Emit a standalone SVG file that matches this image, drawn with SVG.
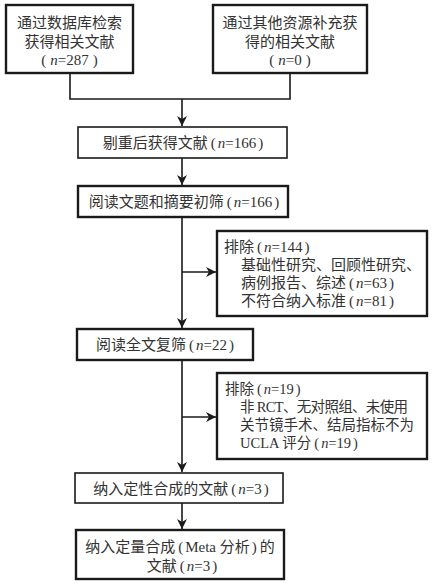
<svg xmlns="http://www.w3.org/2000/svg" width="432" height="587" viewBox="0 0 432 587">
<defs>
<style>
.box{fill:#fff;stroke:#1a1a1a;stroke-width:1.6}
.thick{stroke-width:2.4}
.t{font-family:'Liberation Serif','Noto Sans CJK SC',serif;font-size:15px;fill:#333}
.s{font-size:14.5px}
.c{text-anchor:middle}
.n{font-style:italic}
.ln{fill:none;stroke:#1a1a1a;stroke-width:1.6}
</style>
<marker id="ah" viewBox="0 0 10 10" refX="10" refY="5" markerWidth="10" markerHeight="10" markerUnits="userSpaceOnUse" orient="auto">
<path d="M0,0 L10,5 L0,10 L3,5 Z" fill="#1a1a1a"/>
</marker>
</defs>
<rect width="432" height="587" fill="#fff"/>
<g id="connectors">
<polyline class="ln" points="70,73 70,99 290,99 290,73"/>
<line class="ln" x1="182" y1="99" x2="182" y2="126" marker-end="url(#ah)" stroke-width="2"/>
<line class="ln" x1="182" y1="158" x2="182" y2="185" marker-end="url(#ah)" stroke-width="2"/>
<line class="ln" x1="182" y1="217" x2="182" y2="328" marker-end="url(#ah)"/>
<line class="ln" x1="182" y1="272" x2="216" y2="272" marker-end="url(#ah)"/>
<line class="ln" x1="182" y1="360" x2="182" y2="472" marker-end="url(#ah)"/>
<line class="ln" x1="182" y1="417" x2="216" y2="417" marker-end="url(#ah)"/>
<line class="ln" x1="182" y1="503" x2="182" y2="529" marker-end="url(#ah)" stroke-width="2"/>
</g>
<g id="n1">
<rect class="box thick" x="6" y="5" width="127" height="68"/>
<text class="t c" x="69.5" y="28">通过数据库检索</text>
<text class="t c" x="69.5" y="47">获得相关文献</text>
<text class="t c" x="69.5" y="65">(<tspan class="n" dx="4">n</tspan>=287<tspan dx="4">)</tspan></text>
</g>
<g id="n2">
<rect class="box thick" x="213" y="5" width="154" height="68"/>
<text class="t c" x="290" y="28">通过其他资源补充获</text>
<text class="t c" x="290" y="47">得的相关文献</text>
<text class="t c" x="290" y="65">(<tspan class="n" dx="4">n</tspan>=0<tspan dx="4">)</tspan></text>
</g>
<g id="n3">
<rect class="box" x="78" y="127" width="209" height="31"/>
<text class="t c" x="183" y="147.5">剔重后获得文献<tspan dx="3">(</tspan><tspan class="n" dx="2">n</tspan>=166<tspan dx="2">)</tspan></text>
</g>
<g id="n4">
<rect class="box thick" x="78" y="186" width="210" height="31"/>
<text class="t c" x="184" y="207">阅读文题和摘要初筛<tspan dx="3">(</tspan><tspan class="n" dx="2">n</tspan>=166<tspan dx="2">)</tspan></text>
</g>
<g id="ex1">
<rect class="box thick" x="217" y="231" width="210" height="85"/>
<text class="t" x="224" y="251.5">排除<tspan dx="3">(</tspan><tspan class="n" dx="2">n</tspan>=144<tspan dx="2">)</tspan></text>
<text class="t" x="241" y="269.5">基础性研究、回顾性研究、</text>
<text class="t" x="241" y="287.5">病例报告、综述<tspan dx="3">(</tspan><tspan class="n" dx="2">n</tspan>=63<tspan dx="2">)</tspan></text>
<text class="t" x="241" y="305.5">不符合纳入标准<tspan dx="3">(</tspan><tspan class="n" dx="2">n</tspan>=81<tspan dx="2">)</tspan></text>
</g>
<g id="n5">
<rect class="box thick" x="77" y="329" width="176" height="31"/>
<text class="t c" x="165" y="350">阅读全文复筛<tspan dx="3">(</tspan><tspan class="n" dx="2">n</tspan>=22<tspan dx="2">)</tspan></text>
</g>
<g id="ex2">
<rect class="box thick" x="217" y="373" width="210" height="86"/>
<text class="t s" x="225" y="394">排除<tspan dx="3">(</tspan><tspan class="n" dx="2">n</tspan>=19<tspan dx="2">)</tspan></text>
<text class="t s" x="240" y="412" textLength="168">非 RCT、无对照组、未使用</text>
<text class="t s" x="240" y="430">关节镜手术、结局指标不为</text>
<text class="t s" x="240" y="448">UCLA 评分<tspan dx="3">(</tspan><tspan class="n" dx="2">n</tspan>=19<tspan dx="2">)</tspan></text>
</g>
<g id="n6">
<rect class="box" x="75" y="473" width="208" height="30"/>
<text class="t c" x="181" y="493.5">纳入定性合成的文献<tspan dx="3">(</tspan><tspan class="n" dx="2">n</tspan>=3<tspan dx="2">)</tspan></text>
</g>
<g id="n7">
<rect class="box thick" x="76" y="530" width="208" height="49"/>
<text class="t c" x="180" y="552">纳入定量合成<tspan dx="3">(</tspan><tspan dx="2">Meta 分析</tspan><tspan dx="2">)</tspan><tspan dx="3">的</tspan></text>
<text class="t c" x="182" y="571">文献<tspan dx="3">(</tspan><tspan class="n" dx="2">n</tspan>=3<tspan dx="2">)</tspan></text>
</g>
</svg>
